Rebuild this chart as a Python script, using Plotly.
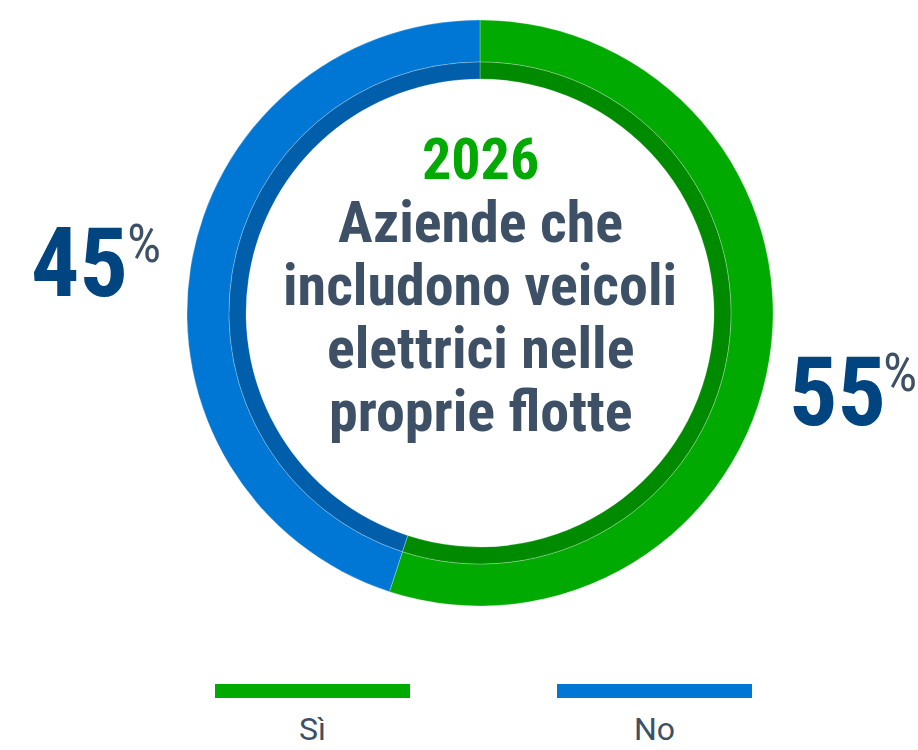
import plotly.graph_objects as go

categories = ["Sì", "No"]
values = [55, 45]
colors = ["#00AA00", "#0077D4"]
dark_colors = ["#008A00", "#005EAA"]
year = "2026"
title_lines = ["Aziende che", "includono veicoli", "elettrici nelle", "proprie flotte"]

W, H = 918, 750
CX, CY = 480, 313
R_OUT, R_MID, R_IN = 293, 251, 234

def px_dom(r):
    x0 = (CX - r) / W
    x1 = (CX + r) / W
    yc = H - CY
    y0 = (yc - r) / H
    y1 = (yc + r) / H
    return dict(x=[x0, x1], y=[y0, y1])

COND = "Roboto Condensed, Liberation Sans Narrow, DejaVu Sans Condensed, Roboto, sans-serif"
TXT = "#3D5066"
NUMC = "#00457F"

fig = go.Figure()
fig.add_trace(go.Pie(
    labels=categories, values=values, hole=R_MID / R_OUT, sort=False,
    direction="clockwise", rotation=0, domain=px_dom(R_OUT),
    marker=dict(colors=colors, line=dict(color="rgba(255,255,255,0.5)", width=0.5)),
    textinfo="none", hoverinfo="label+percent", showlegend=False))
fig.add_trace(go.Pie(
    labels=categories, values=values, hole=R_IN / R_MID, sort=False,
    direction="clockwise", rotation=0, domain=px_dom(R_MID),
    marker=dict(colors=dark_colors, line=dict(color="rgba(255,255,255,0.5)", width=0.5)),
    textinfo="none", hoverinfo="label+percent", showlegend=False))

def P(x, y):
    return x / W, 1 - y / H

ann = []
# center text
x, y = P(CX, 159)
ann.append(dict(x=x, y=y, xref="paper", yref="paper", text=f"<b>{year}</b>", showarrow=False,
                font=dict(family=COND, size=58, color=colors[0]), xanchor="center", yanchor="middle"))
for i, line in enumerate(title_lines):
    x, y = P(CX, 222 + i * 63)
    ann.append(dict(x=x, y=y, xref="paper", yref="paper", text=f"<b>{line}</b>",
                    showarrow=False, font=dict(family=COND, size=58, color=TXT),
                    xanchor="center", yanchor="middle"))

# percentage labels: number center (x, y), percent sign left x / center y
pos = {"No": (79, 263, 126, 244), "Sì": (837, 392, 882, 372)}
for cat, v in zip(categories, values):
    nx, ny, sx, sy = pos[cat]
    x, y = P(nx, ny)
    ann.append(dict(x=x, y=y, xref="paper", yref="paper", text=f"<b>{v}</b>", showarrow=False,
                    font=dict(family=COND, size=96, color=NUMC), xanchor="center", yanchor="middle",
                    borderpad=0))
    x, y = P(sx, sy)
    ann.append(dict(x=x, y=y, xref="paper", yref="paper", text="%", showarrow=False,
                    font=dict(family=COND, size=54, color=TXT), xanchor="left", yanchor="middle",
                    borderpad=0))

# legend
shapes = []
leg_x = [(215, 410), (557, 752)]
for (x0, x1), cat, c in zip(leg_x, categories, colors):
    shapes.append(dict(type="rect", xref="paper", yref="paper",
                       x0=x0 / W, x1=x1 / W, y0=1 - 698 / H, y1=1 - 684 / H,
                       fillcolor=c, line=dict(width=0)))
    x, y = P((x0 + x1) / 2, 729)
    ann.append(dict(x=x, y=y, xref="paper", yref="paper", text=cat, showarrow=False,
                    font=dict(family="Roboto, sans-serif", size=32, color=TXT),
                    xanchor="center", yanchor="middle", borderpad=0))

fig.update_layout(width=W, height=H, margin=dict(l=0, r=0, t=0, b=0),
                  paper_bgcolor="white", plot_bgcolor="white",
                  annotations=ann, shapes=shapes, showlegend=False)
fig.write_html("out.html", config={"displayModeBar": False},
               post_script="document.body.style.margin='0';")
